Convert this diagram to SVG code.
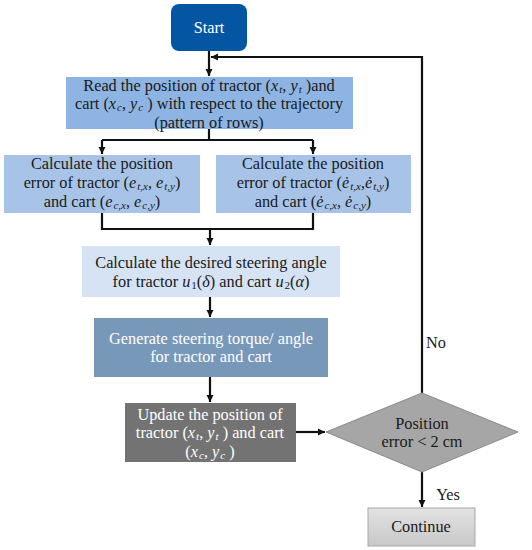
<svg xmlns="http://www.w3.org/2000/svg" width="532" height="550" viewBox="0 0 532 550">
<style>
text{font-family:"Liberation Serif","Times New Roman",serif;font-size:16.3px;text-anchor:middle;fill:#1a1a1a}
.w{fill:#ffffff}
.m{font-style:italic}
.s{font-size:11px;font-style:italic}
.n{font-size:11px}
.ln{stroke:#111;stroke-width:2.2;fill:none}
</style>
<defs>
<marker id="ah" markerWidth="8" markerHeight="8" refX="7" refY="4" orient="auto" markerUnits="userSpaceOnUse">
<path d="M0,0.5 L7,4 L0,7.5 Z" fill="#111"/>
</marker>
<linearGradient id="cg" x1="0" y1="0" x2="0" y2="1">
<stop offset="0" stop-color="#e2e2e2"/>
<stop offset="1" stop-color="#c8c8c8"/>
</linearGradient>
</defs>
<g id="connectors">
<path class="ln" d="M209,51 V76" marker-end="url(#ah)"/>
<path class="ln" d="M209,129 V140"/>
<path class="ln" d="M102,140 H313"/>
<path class="ln" d="M102,140 V154" marker-end="url(#ah)"/>
<path class="ln" d="M313,140 V154" marker-end="url(#ah)"/>
<path class="ln" d="M102,213 V229 H313 V213"/>
<path class="ln" d="M210,229 V245" marker-end="url(#ah)"/>
<path class="ln" d="M210,297 V317" marker-end="url(#ah)"/>
<path class="ln" d="M210,377 V402" marker-end="url(#ah)"/>
<path class="ln" d="M296,432 H325" marker-end="url(#ah)"/>
<path class="ln" d="M422,393 V57 H211" marker-end="url(#ah)"/>
<path class="ln" d="M422,472 V507" marker-end="url(#ah)"/>
<text x="436" y="348">No</text>
<text x="448" y="500">Yes</text>
</g>
<g id="start">
<rect x="171" y="4" width="76" height="47" rx="8" fill="#0456a2"/>
<text class="w" x="209" y="33">Start</text>
</g>
<g id="read">
<rect x="66" y="77" width="287" height="52" fill="#8db4e2"/>
<text x="209" y="91">Read the position of tractor (<tspan class="m">x</tspan><tspan class="s" dx="1" dy="2">t</tspan><tspan dy="-2">, </tspan><tspan class="m">y</tspan><tspan class="s" dx="1" dy="2">t</tspan><tspan dy="-2"> )and</tspan></text>
<text x="209" y="109">cart (<tspan class="m">x</tspan><tspan class="s" dx="1" dy="2">c</tspan><tspan dy="-2">, </tspan><tspan class="m">y</tspan><tspan class="s" dx="1" dy="2">c</tspan><tspan dy="-2"> ) with respect to the trajectory</tspan></text>
<text x="209" y="127.5">(pattern of rows)</text>
</g>
<g id="calc-left">
<rect x="4" y="155" width="196" height="58" fill="#a7c4e8"/>
<text x="102" y="169">Calculate the position</text>
<text x="102" y="188">error of tractor (<tspan class="m">e</tspan><tspan class="s" dx="1" dy="2">t,x</tspan><tspan dy="-2">, </tspan><tspan class="m">e</tspan><tspan class="s" dx="1" dy="2">t,y</tspan><tspan dy="-2">)</tspan></text>
<text x="102" y="206.5">and cart (<tspan class="m">e</tspan><tspan class="s" dx="1" dy="2">c,x</tspan><tspan dy="-2">, </tspan><tspan class="m">e</tspan><tspan class="s" dx="1" dy="2">c,y</tspan><tspan dy="-2">)</tspan></text>
</g>
<g id="calc-right">
<rect x="216" y="155" width="195" height="58" fill="#a7c4e8"/>
<text x="313" y="169">Calculate the position</text>
<text x="313" y="188">error of tractor (<tspan class="m">ė</tspan><tspan class="s" dx="1" dy="2">t,x</tspan><tspan dy="-2">,</tspan><tspan class="m">ė</tspan><tspan class="s" dx="1" dy="2">t,y</tspan><tspan dy="-2">)</tspan></text>
<text x="313" y="206.5">and cart (<tspan class="m">ė</tspan><tspan class="s" dx="1" dy="2">c,x</tspan><tspan dy="-2">, </tspan><tspan class="m">ė</tspan><tspan class="s" dx="1" dy="2">c,y</tspan><tspan dy="-2">)</tspan></text>
</g>
<g id="desired">
<rect x="82" y="246" width="258" height="51" fill="#d5e3f4"/>
<text x="211" y="268">Calculate the desired steering angle</text>
<text x="211" y="287">for tractor <tspan class="m">u</tspan><tspan class="n" dx="1" dy="2">1</tspan><tspan dy="-2">(</tspan><tspan class="m">δ</tspan>) and cart <tspan class="m">u</tspan><tspan class="n" dx="1" dy="2">2</tspan><tspan dy="-2">(</tspan><tspan class="m">α</tspan>)</text>
</g>
<g id="generate">
<rect x="94" y="318" width="234" height="59" fill="#7898ba"/>
<text class="w" x="211" y="344">Generate steering torque/ angle</text>
<text class="w" x="211" y="362">for tractor and cart</text>
</g>
<g id="update">
<rect x="125" y="403" width="171" height="59" fill="#737373"/>
<text class="w" x="210" y="420">Update the position of</text>
<text class="w" x="210" y="438">tractor (<tspan class="m">x</tspan><tspan class="s" dx="1" dy="2">t</tspan><tspan dy="-2">, </tspan><tspan class="m">y</tspan><tspan class="s" dx="1" dy="2">t</tspan><tspan dy="-2"> ) and cart</tspan></text>
<text class="w" x="210" y="457">(<tspan class="m">x</tspan><tspan class="s" dx="1" dy="2">c</tspan><tspan dy="-2">, </tspan><tspan class="m">y</tspan><tspan class="s" dx="1" dy="2">c</tspan><tspan dy="-2"> )</tspan></text>
</g>
<g id="decision">
<path d="M326,432 L422,393 L518,432 L422,472 Z" fill="#a6a6a6" stroke="#8a8a8a" stroke-width="1"/>
<text x="422" y="429">Position</text>
<text x="422" y="447">error &lt; 2 cm</text>
</g>
<g id="continue">
<rect x="368" y="508" width="107" height="38" fill="url(#cg)" stroke="#a8a8a8" stroke-width="1"/>
<text x="421" y="532">Continue</text>
</g>
</svg>
